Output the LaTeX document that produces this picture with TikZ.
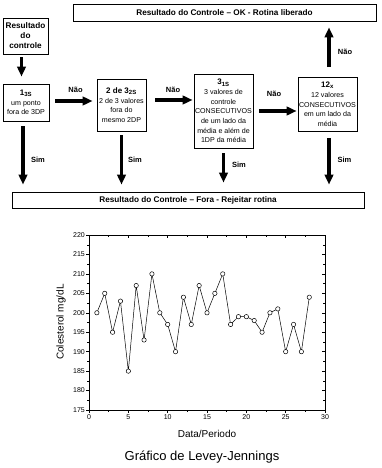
\documentclass[tikz,border=0pt]{standalone}
\usepackage{fontspec}
\setmainfont{Liberation Sans}
\usetikzlibrary{arrows.meta,calc}
\begin{document}
\begin{tikzpicture}[x=1pt,y=-1pt,
  box/.style={draw, line width=0.8pt, align=center, inner sep=0.8pt, font=\fontsize{7.1}{9.7}\selectfont},
  hdr/.style={font=\bfseries\fontsize{8.2}{10}\selectfont},
  bigarrow/.style={line width=3.6pt, -{Triangle[width=8.5pt,length=10pt]}},
  lbl/.style={font=\bfseries\fontsize{7.5}{9}\selectfont},
  tickline/.style={line width=0.4pt},
  ticklbl/.style={font=\fontsize{7}{8}\selectfont, inner sep=1pt},
  dot/.style={line width=0.5pt, fill=white},
]
\useasboundingbox (0,0) rectangle (382,468);
\newcommand\boxttl[1]{{\bfseries\fontsize{8}{9.7}\selectfont #1}}

% boxes
\node[box, hdr, minimum width=303pt, minimum height=17pt] (top) at (224.5,12.5) {Resultado do Controle -- OK - Rotina liberado};
\node[box, hdr, minimum width=45pt, minimum height=36pt] (res) at (25.5,36) {Resultado\\do\\controle};
\node[box, minimum width=46pt, minimum height=37pt] (b1) at (26,102.5) {\boxttl{1\textsubscript{3S}}\\um ponto\\fora de 3DP};
\node[box, minimum width=49pt, minimum height=52pt] (b2) at (121.5,105) {\boxttl{2 de 3\textsubscript{2S}}\\2 de 3 valores\\fora do\\mesmo 2DP};
\node[box, minimum width=59pt, minimum height=74pt] (b3) at (223.5,111) {\boxttl{3\textsubscript{1S}}\\3 valores de\\controle\\CONSECUTIVOS\\de um lado da\\média e além de\\1DP da média};
\node[box, minimum width=59pt, minimum height=54pt] (b4) at (327.5,104.5) {\boxttl{12\textsubscript{x}}\\12 valores\\CONSECUTIVOS\\em um lado da\\média};
\node[box, hdr, minimum width=352pt, minimum height=16pt] (bot) at (188,200) {Resultado do Controle -- Fora - Rejeitar rotina};

% arrows
\draw[bigarrow] ($(res.south)+(-4,3)$) -- ($(res.south |- b1.north)+(-4,-7)$);
\draw[bigarrow] ($(b1.east)+(6,-1.5)$) -- ($(b2.west |- b1.east)+(-4,-1.5)$);
\draw[bigarrow] ($(b2.east)+(9,-5)$) -- ($(b3.west |- b2.east)+(-1,-5)$);
\draw[bigarrow] ($(b3.east)+(6,0)$) -- ($(b4.west |- b3.east)+(-1,0)$);
\draw[bigarrow] ($(b4.north)+(1.5,-10)$) -- ($(b4.north |- top.south)+(1.5,6)$);
\draw[bigarrow] ($(b1.south)+(-3,5)$) -- ($(b1.south |- bot.north)+(-3,-7)$);
\draw[bigarrow] ($(b2.south)+(0,4)$) -- ($(b2.south |- bot.north)+(0,-7)$);
\draw[bigarrow] ($(b3.south)+(0,5)$) -- ($(b3.south |- bot.north)+(0,-9)$);
\draw[bigarrow] ($(b4.south)+(1.5,6)$) -- ($(b4.south |- bot.north)+(1.5,-7)$);

% labels
\node[lbl] (n1) at (75.5,90) {Não};
\node[lbl] (n2) at (173,90) {Não};
\node[lbl] (n3) at (274,94) {Não};
\node[lbl] (n4) at (345,52) {Não};
\node[lbl] (s1) at (38,160) {Sim};
\node[lbl] (s2) at (135,160) {Sim};
\node[lbl] (s3) at (239,165) {Sim};
\node[lbl] (s4) at (344.5,160) {Sim};

% chart
\begin{scope}[shift={(89pt,-410pt)}, x=7.8667pt, y=3.8889pt]
  \draw[line width=0.6pt] (0,0) rectangle (30,45);
  \foreach \u in {0,5,...,30}{
    \draw[tickline] (\u,0) -- ++(0pt,-3pt);
    \draw[tickline] (\u,45) -- ++(0pt,-3pt);
    \node[ticklbl, below] at ([yshift=-3pt]\u,0) {\u};
  }
  \foreach \u in {2.5,7.5,...,27.5}{
    \draw[tickline] (\u,0) -- ++(0pt,-1.6pt);
    \draw[tickline] (\u,45) -- ++(0pt,-1.6pt);
  }
  \foreach \v in {0,5,...,45}{
    \draw[tickline] (0,\v) -- ++(-3pt,0pt);
    \draw[tickline] (30,\v) -- ++(-3pt,0pt);
    \pgfmathtruncatemacro\lab{175+\v}
    \node[ticklbl, left] at ([xshift=-3pt]0,\v) {\lab};
  }
  \foreach \v in {2.5,7.5,...,42.5}{
    \draw[tickline] (0,\v) -- ++(-1.6pt,0pt);
    \draw[tickline] (30,\v) -- ++(-1.6pt,0pt);
  }
  \draw[line width=0.5pt] plot coordinates {(1,25) (2,30) (3,20) (4,28) (5,10) (6,32) (7,18) (8,35) (9,25) (10,22) (11,15) (12,29) (13,22) (14,32) (15,25) (16,30) (17,35) (18,22) (19,24) (20,24) (21,23) (22,20) (23,25) (24,26) (25,15) (26,22) (27,15) (28,29)};
  \foreach \u/\v in {1/25,2/30,3/20,4/28,5/10,6/32,7/18,8/35,9/25,10/22,11/15,12/29,13/22,14/32,15/25,16/30,17/35,18/22,19/24,20/24,21/23,22/20,23/25,24/26,25/15,26/22,27/15,28/29}{
    \draw[dot] (\u,\v) circle[radius=2.2pt];
  }
\end{scope}
\node[rotate=90, font=\fontsize{10}{12}\selectfont] (ylab) at (61,322) {Colesterol mg/dL};
\node[font=\fontsize{10}{12}\selectfont] (xlab) at (207,434) {Data/Periodo};
\node[font=\fontsize{13}{15}\selectfont] (title) at (202,457) {Gráfico de Levey-Jennings};
\end{tikzpicture}
\end{document}
